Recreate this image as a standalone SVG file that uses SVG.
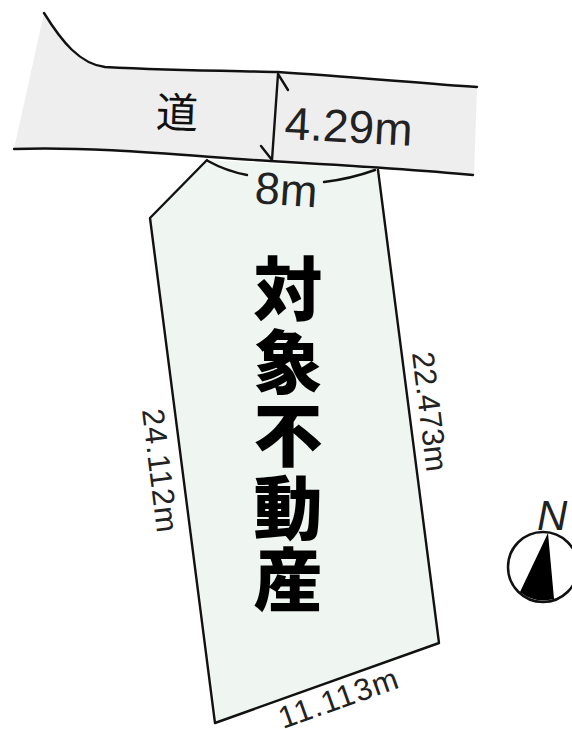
<svg xmlns="http://www.w3.org/2000/svg" width="572" height="729" viewBox="0 0 572 729">
<style>
.l{fill:none;stroke:#111;stroke-width:2.4;stroke-linecap:round;stroke-linejoin:round}
.t{font-family:"Liberation Sans",Arial,sans-serif;fill:#222}
.j{font-family:"Noto Sans CJK JP",sans-serif;fill:#111}
.k{font-size:69px;font-weight:900;text-anchor:middle;fill:#000}
</style>
<rect width="572" height="729" fill="#fff"/>
<g id="road">
<path d="M44 13C62 45 82 66 105 67C180 71 250 71 278 72C340 76 420 83 477 87L474 175C420 170 340 165 270 161C200 157 100 147 14 149Z" fill="#efeeef"/>
<path class="l" d="M44 13C62 42 80 64 105 67C180 71 250 71 278 72C340 76 420 83 477 87"/>
<path class="l" d="M14 149C100 146 200 157 270 161C340 165 420 170 473 175"/>
<text class="j" x="177" y="128" font-size="42" text-anchor="middle" transform="rotate(2 177 113)">道</text>
</g>
<g id="lot">
<path d="M207 160L377 169L439 643L217 722L150 218Z" fill="#eff6f1"/>
<path class="l" d="M207 160L150 218L215 723L439 643L378 170"/>
<text class="j k" x="288" y="315">対</text>
<text class="j k" x="288" y="388">象</text>
<text class="j k" x="288" y="461">不</text>
<text class="j k" x="288" y="534">動</text>
<text class="j k" x="288" y="606">産</text>
</g>
<g id="connectors">
<path class="l" d="M278 74L272 160M278 74L288 90M272 160L261 146"/>
<path class="l" d="M208 161Q226 171 247 175M324 182Q350 179 375 170"/>
</g>
<g id="labels">
<text class="t" font-size="46" x="284" y="139" transform="rotate(3 284 139)">4.29m</text>
<text class="t" font-size="45" x="254" y="203" transform="rotate(4 254 203)">8m</text>
<text class="t" font-size="31" x="412" y="353" transform="rotate(83 412 353)">22.473m</text>
<text class="t" font-size="31" letter-spacing="1" x="142" y="410" transform="rotate(83 142 410)">24.112m</text>
<text class="t" font-size="31" letter-spacing="1.4" x="283" y="729" transform="rotate(-19.5 283 729)">11.113m</text>
</g>
<g id="compass">
<circle cx="543" cy="567" r="35" fill="#fff" stroke="#111" stroke-width="2.5"/>
<path d="M548 533L520 592Q535 604 554 599Z" fill="#000"/>
<text class="t" font-size="42" font-style="italic" x="537" y="530">N</text>
</g>
</svg>
